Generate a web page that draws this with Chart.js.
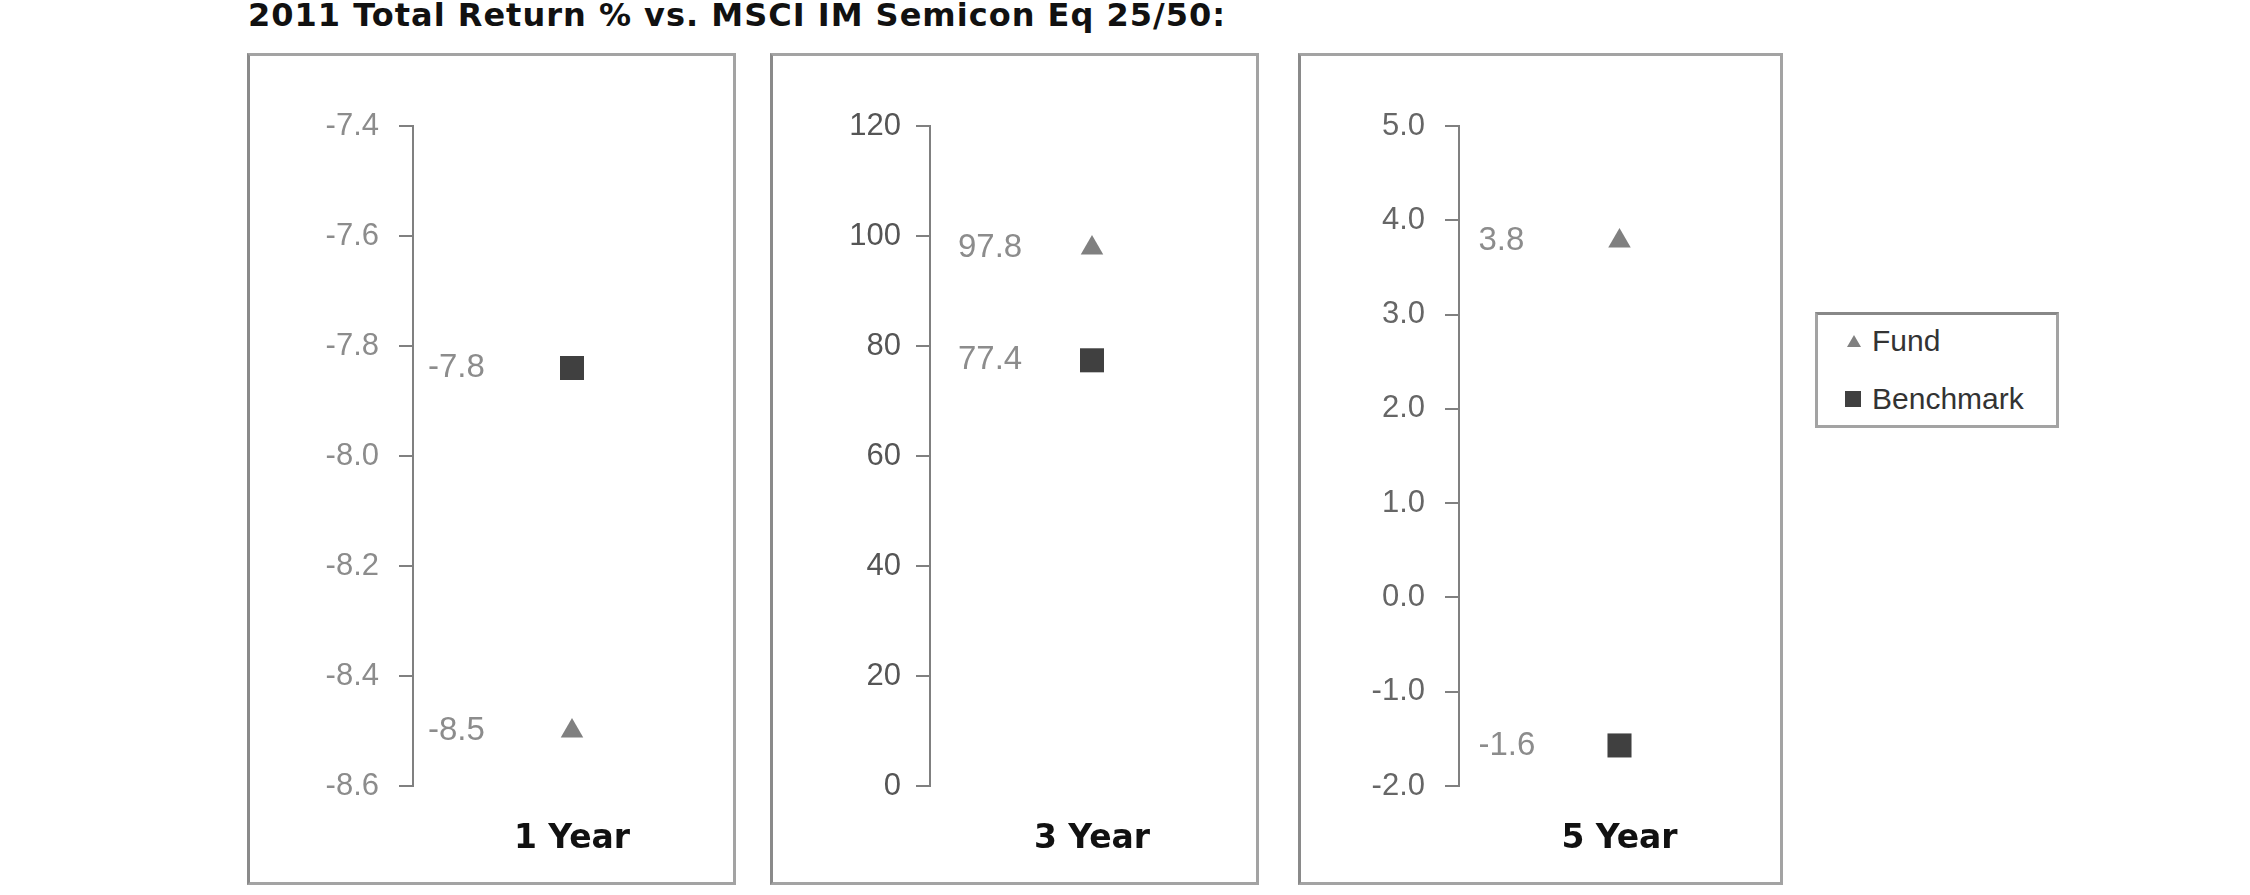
<!DOCTYPE html>
<html>
<head>
<meta charset="utf-8">
<script src="https://cdn.jsdelivr.net/npm/chart.js@4/dist/chart.umd.min.js"></script>
<style>
  html, body { margin: 0; padding: 0; background: #fff; }
  body { width: 2250px; height: 895px; position: relative; overflow: hidden; }
  #title { position: absolute; left: 248px; top: -4px; font: bold 32px "DejaVu Sans", Verdana, sans-serif; letter-spacing: 1px; color: #111; white-space: nowrap; }
  .panel { position: absolute; top: 53px; height: 832px; box-sizing: border-box; border: 3px solid #a3a3a3; border-left-color: #8a8a8a; background: #fff; }
  .panel .wrap { position: absolute; left: 0; top: 0; right: 0; bottom: 0; }
  #legend { position: absolute; left: 1815px; top: 312px; width: 244px; height: 116px; box-sizing: border-box; border: 3px solid #a3a3a3; border-top-color: #888; background: #fff; font: 30px "Liberation Sans", Arial, sans-serif; color: #333; }
  .item { position: absolute; left: 0; height: 40px; line-height: 40px; }
  .item span.txt { position: absolute; left: 54px; white-space: nowrap; }
  .tri { position: absolute; left: 29px; top: 14px; width: 0; height: 0; border-left: 7px solid transparent; border-right: 7px solid transparent; border-bottom: 12px solid #808080; }
  .sq { position: absolute; left: 27px; top: 12px; width: 16px; height: 16px; background: #404040; }
</style>
</head>
<body>
<div id="title">2011 Total Return % vs. MSCI IM Semicon Eq 25/50:</div>
<div class="panel" id="p0" style="left:247px;width:489px;"><div class="wrap"><canvas id="c0"></canvas></div></div>
<div class="panel" id="p1" style="left:770px;width:489px;"><div class="wrap"><canvas id="c1"></canvas></div></div>
<div class="panel" id="p2" style="left:1298px;width:485px;"><div class="wrap"><canvas id="c2"></canvas></div></div>
<div id="legend"></div>
<script>
const periods = ['1 Year', '3 Year', '5 Year'];
const seriesNames = ['Fund', 'Benchmark'];
const fundReturns = [-8.5, 97.8, 3.78];
const benchmarkReturns = [-7.84, 77.4, -1.57];
const yMin = [-8.6, 0, -2];
const yMax = [-7.4, 120, 5];
const yStep = [0.2, 20, 1];
const yDecimals = [1, 0, 1];

// layout per panel (pixels inside the panel border)
const axisLeft = [163, 157, 158];
const padRight = [2, 2, 0];
const labelShift = [144, 134, 141];
const tickPad = [20, 15, 20];
const tickColors = ['#8c8c8c', '#555', '#666'];

const valueLabels = {
  id: 'valueLabels',
  afterDatasetsDraw(chart, args, opts) {
    const ctx = chart.ctx;
    ctx.save();
    ctx.font = '33px "Liberation Sans", Arial, sans-serif';
    ctx.fillStyle = '#8c8c8c';
    ctx.textAlign = 'left';
    ctx.textBaseline = 'middle';
    chart.data.datasets.forEach((ds, i) => {
      chart.getDatasetMeta(i).data.forEach((pt, j) => {
        ctx.fillText(ds.data[j].toFixed(1), pt.x - opts.shift, pt.y);
      });
    });
    ctx.restore();
  }
};

periods.forEach((period, k) => {
  new Chart(document.getElementById('c' + k), {
    type: 'line',
    data: {
      labels: [period],
      datasets: [{
        label: seriesNames[0],
        data: [fundReturns[k]],
        showLine: false,
        pointStyle: 'triangle',
        pointRadius: 13,
        borderWidth: 0,
        backgroundColor: '#808080',
        borderColor: '#808080',
      }, {
        label: seriesNames[1],
        data: [benchmarkReturns[k]],
        showLine: false,
        pointStyle: 'rect',
        pointRadius: 17,
        borderWidth: 0,
        backgroundColor: '#404040',
        borderColor: '#404040',
      }],
    },
    options: {
      responsive: true,
      maintainAspectRatio: false,
      animation: false,
      events: [],
      layout: { autoPadding: false, padding: { top: 70, right: padRight[k], left: 0, bottom: 0 } },
      plugins: {
        legend: { display: false },
        tooltip: { enabled: false },
        valueLabels: { shift: labelShift[k] },
      },
      scales: {
        x: {
          type: 'category',
          offset: true,
          grid: { display: false },
          border: { display: false },
          ticks: {
            color: '#111',
            padding: 26,
            font: { family: '"DejaVu Sans", Verdana, sans-serif', size: 33, weight: 'bold' },
          },
          afterFit: (scale) => { scale.height = 96; },
        },
        y: {
          min: yMin[k],
          max: yMax[k],
          grid: { drawOnChartArea: false, drawTicks: true, tickLength: 14, color: '#808080', lineWidth: 2 },
          border: { display: true, color: '#808080', width: 2 },
          ticks: {
            stepSize: yStep[k],
            padding: tickPad[k],
            color: tickColors[k],
            font: { family: '"Liberation Sans", Arial, sans-serif', size: 31 },
            callback: (v) => Number(v).toFixed(yDecimals[k]),
          },
          afterFit: (scale) => { scale.width = axisLeft[k]; },
        },
      },
    },
    plugins: [valueLabels],
  });
});

// legend
const legend = document.getElementById('legend');
seriesNames.forEach((name, i) => {
  const item = document.createElement('div');
  item.className = 'item';
  item.style.top = (i === 0 ? 6 : 64) + 'px';
  const mark = document.createElement('div');
  mark.className = i === 0 ? 'tri' : 'sq';
  const txt = document.createElement('span');
  txt.className = 'txt';
  txt.textContent = name;
  item.appendChild(mark);
  item.appendChild(txt);
  legend.appendChild(item);
});
</script>
</body>
</html>
